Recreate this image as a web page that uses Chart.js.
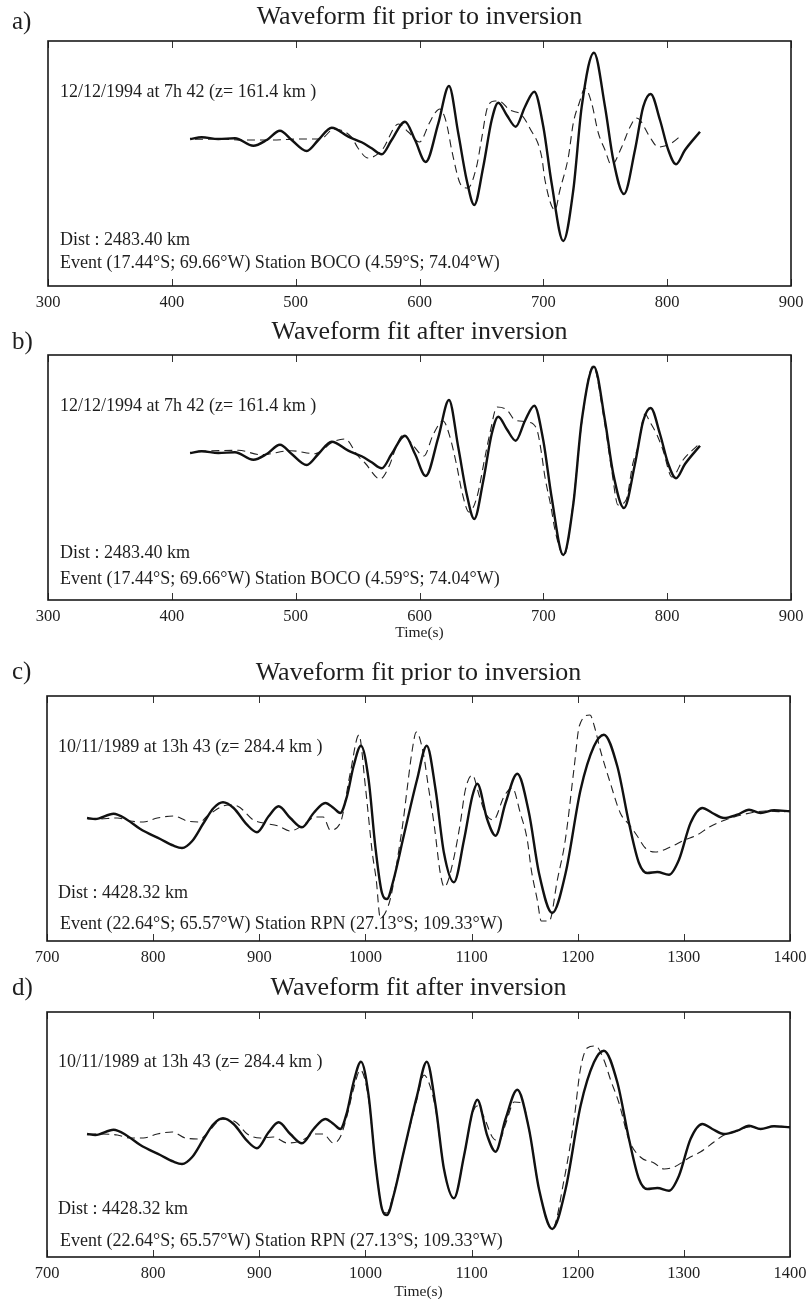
<!DOCTYPE html>
<html>
<head>
<meta charset="utf-8">
<title>Waveform fits</title>
<script src="https://cdn.jsdelivr.net/npm/chart.js@4.4.1/dist/chart.umd.min.js"></script>
<style>
  html, body { margin: 0; padding: 0; background: #fff; }
  body { width: 807px; height: 1299px; position: relative; overflow: hidden; }
  canvas { position: absolute; left: 0; }
</style>
</head>
<body>
<canvas id="panel-a" width="807" height="314" style="top:0px"></canvas>
<canvas id="panel-b" width="807" height="340" style="top:314px"></canvas>
<canvas id="panel-c" width="807" height="314" style="top:655px"></canvas>
<canvas id="panel-d" width="807" height="335" style="top:971px"></canvas>
<script>
// Event 1 (BOCO) - observed trace (solid)
var obs1Time = [414.7, 424.1, 437.5, 451, 465.8, 476.6, 487.3, 496.8, 508.9, 518.3, 529.1, 542.5, 553.3, 561.4, 569.5, 577.5, 588.3, 596.4, 605, 615.2, 623.8, 631.3, 638.1, 644.2, 651.5, 658.3, 663.6, 670.4, 677.7, 685.2, 692.7, 700, 706.7, 716.1, 724.2, 731, 740.9, 749.8, 756.5, 765.1, 774, 780.7, 786.7, 794.2, 800.9, 807.1, 814.4, 826.5];
var obs1Amp = [-1, 0.7, -1, -0.3, -7.7, -2, 7.3, -2, -13, -2, 10.3, 1.3, -4.3, -10.3, -16.3, -2, 16.3, -2, -24, 14.7, 52, 4.7, -42, -67, -28.7, 18, 35.3, 23, 11.3, 31.3, 46.3, 11.3, -45.3, -103, -52, 31.3, 85.3, 31.3, -22, -56, -12, 31.3, 44, 18, -12, -26.3, -12, 6.3];

// Event 1 - synthetic prior to inversion (dashed)
var synPrior1Time = [418.7, 440, 455, 479, 503, 520, 531, 545, 550.3, 558.4, 569.7, 583, 591, 600, 608, 612.5, 616.5, 620.6, 623, 626, 634, 639, 646, 650, 655, 661, 664, 673, 682.5, 689, 698.7, 701.3, 709.4, 713.4, 720.2, 724.2, 729, 733.6, 739, 744.4, 749.8, 755, 763.3, 770, 775, 778, 786, 792.8, 798, 803.6, 811.7];
var synPrior1Amp = [-1.3, -1, -2, -2, -1, -1, 9, 1, -10, -20, -12, 14, 6, -4, 15, 25, 29, 20, 8, -12, -48, -50, -29, -2, 31, 37, 37, 28, 23, 10, -19, -42, -72, -52, -19, 15, 35, 50, 35, 5, -12, -27, -9, 11, 20, 18, 1, -9, -8, -5, 3];

// Event 1 - synthetic after inversion (dashed)
var synAfter1Time = [421.4, 453.7, 472, 496.2, 515.6, 530.1, 539.8, 550.3, 556, 568.1, 576.2, 580.2, 586.7, 593.9, 603.6, 610.9, 619, 624.6, 630.3, 634.3, 640, 646.4, 652.9, 656.9, 662.6, 670.7, 677.1, 687.6, 694.9, 698.1, 701.3, 706.2, 709.4, 714.3, 716.7, 724, 731.2, 740.1, 749, 755.4, 760.3, 766.8, 772.4, 776.4, 782.1, 786.1, 791.8, 796.6, 803.9, 812.8, 824.9];
var synAfter1Amp = [0.7, 1.7, -2.7, 1.3, -1.7, 10, 13, -4, -11, -27, -12, 2, 17, 8, -4, 17, 31, 15, -15, -40, -60, -45, -5, 19, 45, 42, 32, 30, 22, 2, -25, -55, -78, -100, -104, -52, 31, 86, 33, -20, -53, -48, -11, 5, 38, 30, 17, 2, -25, -8, 7];

// Event 2 (RPN) - observed trace (solid)
var obs2Time = [737.7, 745.5, 762.7, 775.4, 787.9, 806.7, 819.3, 827.2, 836.6, 847.5, 857, 865.8, 875.8, 888.4, 897.8, 908.8, 918.2, 929.2, 940.2, 951.2, 962.2, 970, 976.3, 982.6, 988.8, 995.8, 1003, 1009.3, 1015.6, 1020.3, 1026.5, 1036, 1048.6, 1057.8, 1066.1, 1074, 1083.4, 1092.9, 1100.7, 1105.4, 1114.8, 1122.6, 1132, 1143.1, 1154.1, 1163.5, 1176, 1188.6, 1202.7, 1215.3, 1224.7, 1237.3, 1248.3, 1257.7, 1265.5, 1275, 1286, 1295.4, 1306.3, 1317.4, 1326.8, 1337.8, 1350.3, 1361.4, 1372.3, 1384.9, 1400];
var obs2Amp = [0, -1, 4.3, -1.7, -11, -21, -27.7, -30, -23.3, -5, 10, 15.7, 10, -6.7, -14.3, 1.7, 11.7, 0, -9.3, 5, 15, 10, 5, 21.7, 51.7, 72.3, 38.3, -28.3, -75, -81, -61.7, -18.3, 38.3, 72.3, 28.3, -35, -64.3, -21.7, 21.7, 34.3, -1.7, -17.7, 15, 44.3, 5, -55, -95, -55, 28.3, 71.7, 83.3, 51.7, -5, -45, -55, -54, -56.7, -41.7, -5, 10, 5, 0, 3.3, 8.3, 5, 7.7, 6.7];

// Event 2 - synthetic prior to inversion (dashed)
var synPrior2Time = [738.9, 747.4, 766.2, 778.5, 790.7, 803.9, 819, 832.2, 844.4, 851, 870.8, 879.3, 894.4, 903.8, 917.9, 929.2, 941.5, 952.8, 960.3, 966.9, 976.3, 985.7, 993.9, 999.9, 1006.5, 1010.2, 1014, 1021.5, 1025.3, 1030, 1035.7, 1039.4, 1044.1, 1047.9, 1054.5, 1059.2, 1064.9, 1070.5, 1074.3, 1077.1, 1083.7, 1089.4, 1094.1, 1100.7, 1107.3, 1112.9, 1120.5, 1130.8, 1138.4, 1145.9, 1152.5, 1156.3, 1161.9, 1165.7, 1173.2, 1180.8, 1188.3, 1196.8, 1201.5, 1211.6, 1215.6, 1221.3, 1230.7, 1240.1, 1249.5, 1256.1, 1263.7, 1273.1, 1289.1, 1300.4, 1312.6, 1324, 1339, 1357.9, 1376.7, 1395.5];
var synPrior2Amp = [-1, -1, 0, -3, -4, 0, 2, -3, -4, 2, 13, 12, -2, -5, -8, -13, -7, 1, 1, -12, -5, 45, 83, 32, -35, -62, -100, -88, -72, -42, -2, 30, 68, 86, 65, 32, -8, -55, -69, -65, -38, -5, 28, 43, 22, 5, -2, 22, 30, 5, -22, -52, -82, -103, -103, -62, -22, 52, 92, 103, 92, 68, 35, 5, -8, -18, -30, -34, -28, -22, -17, -9, -2, 4, 7, 6];

// Event 2 - synthetic after inversion (dashed)
var synAfter2Time = [738.9, 747.4, 766.2, 778.5, 790.7, 803.9, 818, 830.3, 844.4, 851, 865.2, 877.4, 888.7, 901, 913.2, 926.4, 938.6, 952.8, 960.3, 969.7, 976.3, 982.6, 988.8, 995.2, 1003, 1009.3, 1015.6, 1020.3, 1026.5, 1036, 1048.6, 1055.2, 1059.9, 1066.1, 1074, 1083.4, 1092.9, 1100.7, 1105.4, 1111.7, 1119.5, 1125.8, 1132.7, 1140.2, 1147.8, 1154.1, 1163.5, 1176, 1187.1, 1196.5, 1202.4, 1209, 1216.8, 1224.7, 1231, 1238.9, 1248.3, 1259, 1271.9, 1281.3, 1290.7, 1306.1, 1315.5, 1328.4, 1337.8, 1350.3, 1361.4, 1372.3, 1384.9, 1400];
var synAfter2Amp = [0, 0, -1, -4, -4, 0, 2, -4, -5, 1, 14.7, 12.3, 0, -4, -3, -9, -7, 0, 0, -9, -3, 18, 45, 64, 35, -28, -74, -79, -60, -18, 35, 59, 51, 25, -35, -64, -22, 20, 28, 17, -3, -7, 12, 32, 31, 5, -55, -95, -46, 14, 64, 86, 88, 74, 54, 31, -6, -23, -29, -35, -33, -23, -18, -8, -1, 3, 7, 5, 8, 7];

// Axis ticks
var ticks1 = [300, 400, 500, 600, 700, 800, 900];
var ticks2 = [700, 800, 900, 1000, 1100, 1200, 1300, 1400];

var SERIF = "'Liberation Serif', 'Times New Roman', Times, serif";

function toPoints(times, amps) {
  return times.map(function (t, i) { return { x: t, y: amps[i] }; });
}

// Frame, inward ticks, title and text labels
var panelDecor = {
  id: 'panelDecor',
  beforeDatasetsDraw: function (chart, args, opts) {
    var ctx = chart.ctx;
    var area = chart.chartArea;
    ctx.save();
    ctx.fillStyle = '#1e1e1e';
    ctx.textBaseline = 'middle';
    // panel letter
    ctx.font = '25px ' + SERIF;
    ctx.textAlign = 'left';
    ctx.fillText(opts.letter, 12, opts.letterY);
    // title
    ctx.font = '26px ' + SERIF;
    ctx.textAlign = 'center';
    ctx.fillText(opts.title, (area.left + area.right) / 2, opts.titleY);
    // annotations
    ctx.font = '18px ' + SERIF;
    ctx.textAlign = 'left';
    opts.notes.forEach(function (n) { ctx.fillText(n.text, n.x, n.y); });
    ctx.restore();
  },
  afterDraw: function (chart) {
    var ctx = chart.ctx;
    var area = chart.chartArea;
    var xs = chart.scales.x;
    ctx.save();
    ctx.strokeStyle = '#333';
    ctx.lineWidth = 1;
    xs.ticks.forEach(function (t) {
      var px = Math.round(xs.getPixelForValue(t.value)) + 0.5;
      ctx.beginPath();
      ctx.moveTo(px, area.top); ctx.lineTo(px, area.top + 7);
      ctx.moveTo(px, area.bottom); ctx.lineTo(px, area.bottom - 7);
      ctx.stroke();
    });
    ctx.strokeStyle = '#1a1a1a';
    ctx.lineWidth = 1.6;
    ctx.strokeRect(area.left, area.top, area.right - area.left, area.bottom - area.top);
    ctx.restore();
  }
};

function makePanel(id, cfg) {
  var canvas = document.getElementById(id);
  var H = canvas.height;
  return new Chart(canvas, {
    type: 'line',
    data: {
      datasets: [{
        data: toPoints(cfg.obsTime, cfg.obsAmp),
        borderColor: '#111',
        borderWidth: 2.4,
        pointRadius: 0,
        cubicInterpolationMode: 'monotone'
      }, {
        data: toPoints(cfg.synTime, cfg.synAmp),
        borderColor: '#222',
        borderWidth: 1.1,
        borderDash: [8, 5],
        pointRadius: 0,
        cubicInterpolationMode: 'monotone'
      }]
    },
    options: {
      responsive: false,
      animation: false,
      devicePixelRatio: 1,
      layout: { padding: { left: cfg.left, right: 807 - cfg.right, top: 41, bottom: 0 } },
      plugins: {
        legend: { display: false },
        tooltip: { enabled: false },
        panelDecor: {
          letter: cfg.letter, letterY: cfg.letterY,
          title: cfg.title, titleY: cfg.titleY,
          notes: cfg.notes
        }
      },
      scales: {
        x: {
          type: 'linear',
          min: cfg.ticks[0],
          max: cfg.ticks[cfg.ticks.length - 1],
          afterBuildTicks: function (scale) {
            scale.ticks = cfg.ticks.map(function (v) { return { value: v }; });
          },
          afterFit: function (scale) {
            scale.height = H - 286;
            // keep the plot box where the layout padding puts it
            scale.paddingLeft = 0;
            scale.paddingRight = 0;
          },
          grid: { display: false, drawTicks: false },
          border: { display: false },
          ticks: {
            padding: 6.4,
            maxRotation: 0,
            autoSkip: false,
            color: '#1e1e1e',
            font: { family: SERIF, size: 16.5 },
            callback: function (v) { return String(v); }
          },
          title: {
            display: !!cfg.xTitle,
            text: 'Time(s)',
            color: '#1e1e1e',
            font: { family: SERIF, size: 15.5 },
            padding: { top: 0, bottom: cfg.xTitlePad || 0 }
          }
        },
        y: {
          display: false,
          min: cfg.yMin,
          max: cfg.yMax
        }
      }
    },
    plugins: [panelDecor]
  });
}

makePanel('panel-a', {
  obsTime: obs1Time, obsAmp: obs1Amp, synTime: synPrior1Time, synAmp: synPrior1Amp,
  ticks: ticks1, left: 48, right: 791, yMin: -148, yMax: 97,
  letter: 'a)', letterY: 22, title: 'Waveform fit prior to inversion', titleY: 17,
  notes: [
    { text: '12/12/1994 at 7h 42 (z= 161.4 km )', x: 60, y: 92 },
    { text: 'Dist : 2483.40 km', x: 60, y: 240 },
    { text: 'Event (17.44°S; 69.66°W) Station BOCO (4.59°S; 74.04°W)', x: 60, y: 263 }
  ]
});

makePanel('panel-b', {
  obsTime: obs1Time, obsAmp: obs1Amp, synTime: synAfter1Time, synAmp: synAfter1Amp,
  ticks: ticks1, left: 48, right: 791, yMin: -148, yMax: 97,
  letter: 'b)', letterY: 28, title: 'Waveform fit after inversion', titleY: 18,
  xTitle: true, xTitlePad: 11.7,
  notes: [
    { text: '12/12/1994 at 7h 42 (z= 161.4 km )', x: 60, y: 92 },
    { text: 'Dist : 2483.40 km', x: 60, y: 239 },
    { text: 'Event (17.44°S; 69.66°W) Station BOCO (4.59°S; 74.04°W)', x: 60, y: 265 }
  ]
});

makePanel('panel-c', {
  obsTime: obs2Time, obsAmp: obs2Amp, synTime: synPrior2Time, synAmp: synPrior2Amp,
  ticks: ticks2, left: 47, right: 790, yMin: -123, yMax: 122,
  letter: 'c)', letterY: 17, title: 'Waveform fit prior to inversion', titleY: 18,
  notes: [
    { text: '10/11/1989 at 13h 43 (z= 284.4 km )', x: 58, y: 92 },
    { text: 'Dist : 4428.32 km', x: 58, y: 238 },
    { text: 'Event (22.64°S; 65.57°W) Station RPN (27.13°S; 109.33°W)', x: 60, y: 269 }
  ]
});

makePanel('panel-d', {
  obsTime: obs2Time, obsAmp: obs2Amp, synTime: synAfter2Time, synAmp: synAfter2Amp,
  ticks: ticks2, left: 47, right: 790, yMin: -123, yMax: 122,
  letter: 'd)', letterY: 17, title: 'Waveform fit after inversion', titleY: 17,
  xTitle: true, xTitlePad: 4.7,
  notes: [
    { text: '10/11/1989 at 13h 43 (z= 284.4 km )', x: 58, y: 91 },
    { text: 'Dist : 4428.32 km', x: 58, y: 238 },
    { text: 'Event (22.64°S; 65.57°W) Station RPN (27.13°S; 109.33°W)', x: 60, y: 270 }
  ]
});
</script>
</body>
</html>
